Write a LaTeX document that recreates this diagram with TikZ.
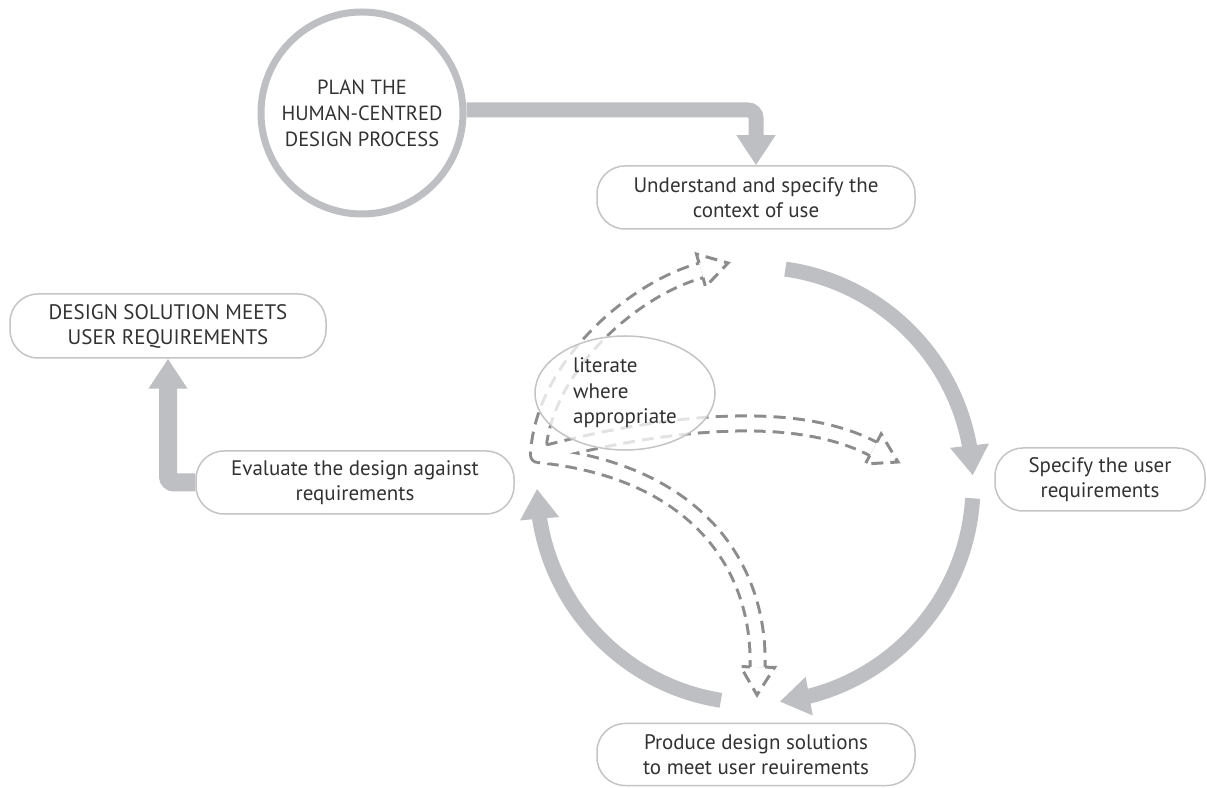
\documentclass[tikz,border=0pt]{standalone}
\usepackage{fontspec}
\setsansfont{PT Sans}
\usetikzlibrary{arrows.meta,bending,calc,shapes.geometric}
\definecolor{arrowgray}{RGB}{190,191,194}
\definecolor{dashgray}{RGB}{140,140,140}
\definecolor{boxgray}{RGB}{196,196,196}
\definecolor{textgray}{RGB}{50,50,50}
\tikzset{
	box/.style = { draw=boxgray, line width=1.5pt, rounded corners=28pt, minimum width=318pt, minimum height=63pt, align=center, font=\sffamily\fontsize{21}{25}\selectfont, text=textgray },
	arrow/.style = { line width=15pt, color=arrowgray, -{Triangle[length=30pt,width=37pt]} },
	dasharrow/.style = { draw=dashgray, line width=3pt, dash pattern=on 12pt off 7pt },
}
\newcommand{\dashhead}[2]{%
	\path ($(#1)!28pt!(#2)$) coordinate (hb);
	\draw[dasharrow] ($(hb)!7.5pt!90:(#1)$) -- ($(hb)!17pt!90:(#1)$) -- (#1) -- ($(hb)!17pt!-90:(#1)$) -- ($(hb)!7.5pt!-90:(#1)$);
}

\begin{document}
\begin{tikzpicture}[x=1pt,y=1pt]
\useasboundingbox (0,0) rectangle (1207,787);

\node[circle, draw=arrowgray, line width=7pt, minimum size=202pt, inner sep=0pt, align=center, font=\sffamily\fontsize{20.5}{26}\selectfont, text=textgray] (plan) at (362,674) {PLAN THE\\HUMAN-CENTRED\\DESIGN PROCESS};
\node[box] (understand) at (756,589.5) {Understand and specify the\\context of use};
\node[box, minimum width=316pt, minimum height=64pt] (design) at (168,461) {DESIGN SOLUTION MEETS\\USER REQUIREMENTS};
\node[box] (evaluate) at (355,304.5) {Evaluate the design against\\requirements};
\node[box, minimum width=210pt] (specify) at (1100,307.5) {Specify the user\\requirements};
\node[box, minimum height=62pt] (produce) at (756,32.5) {Produce design solutions\\to meet user reuirements};

\draw[arrow, rounded corners=8pt] ([yshift=3pt]plan.east) -| (understand.north);
\draw[arrow, line width=18pt, rounded corners=6pt] (evaluate.west) -| (design.south);

\coordinate (O) at (755,302);
\draw[arrow] (O) ++(82:218) arc[start angle=82, end angle=2.5, radius=218];
\draw[arrow] (O) ++(-3.5:218) arc[start angle=-3.5, end angle=-83.5, radius=218];
\draw[arrow] (O) ++(-99:218) arc[start angle=-99, end angle=-179, radius=218];

\coordinate (root) at (538,332);
\coordinate (topa) at (542,417);
\coordinate (topb) at (630,497);
\coordinate (toptip) at (728,524);
\coordinate (righta) at (650,362);
\coordinate (rightb) at (790,382);
\coordinate (righttip) at (898,325);
\coordinate (downa) at (690,317);
\coordinate (downb) at (760,227);
\coordinate (downtip) at (757,92);
\fill[dashgray] (root) circle (9pt);
\foreach \a/\b/\t in {topa/topb/toptip, righta/rightb/righttip, downa/downb/downtip}
	\draw[dashgray, line width=18pt] (root) .. controls (\a) and (\b) .. ($(\t)!28pt!(\b)$);
\fill[white] (root) circle (6pt);
\foreach \a/\b/\t in {topa/topb/toptip, righta/rightb/righttip, downa/downb/downtip}
	\draw[white, line width=12pt] (root) .. controls (\a) and (\b) .. ($(\t)!28pt!(\b)$);
\foreach \a/\b/\t in {topa/topb/toptip, righta/rightb/righttip, downa/downb/downtip} {
	\draw[white, line width=20pt, dash pattern=on 7pt off 12pt, dash phase=-3pt] (root) .. controls (\a) and (\b) .. ($(\t)!28pt!(\b)$);
	\dashhead{\t}{\b}
}

\node[ellipse, draw=boxgray, line width=1.5pt, fill=white, fill opacity=0.75, text opacity=1, minimum width=180pt, minimum height=114pt, inner sep=0pt, align=left, font=\sffamily\fontsize{21}{25.5}\selectfont, text=textgray] (note) at (625,394) {literate\\where\\appropriate};
\end{tikzpicture}
\end{document}
